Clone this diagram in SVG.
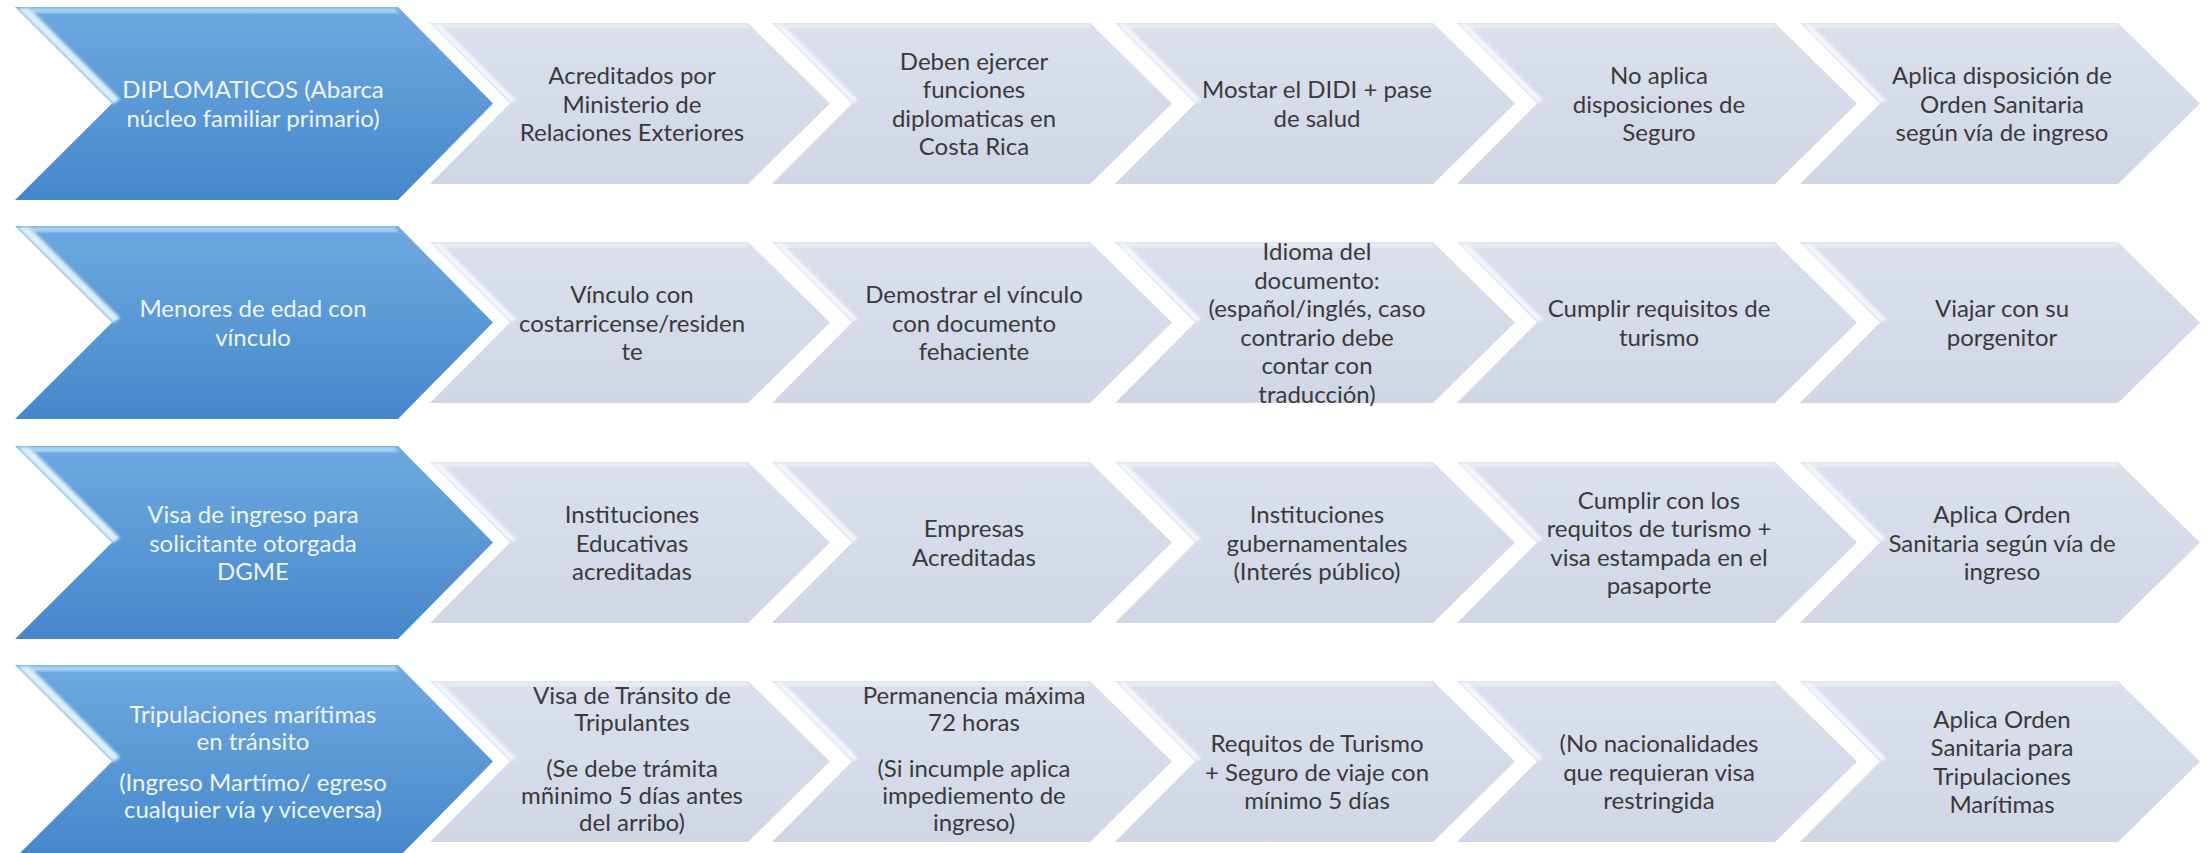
<svg xmlns="http://www.w3.org/2000/svg" xmlns:xlink="http://www.w3.org/1999/xlink" width="2208" height="853" viewBox="0 0 2208 853">
<style>
  text { font-family: Lato, "Open Sans", "Liberation Sans", sans-serif; font-size: 24px; text-anchor: middle; }
  .dark { fill: #3a3a3a; }
  .light { fill: #eef5fc; }
</style>
<defs>
  <linearGradient id="gBlue" x1="0" y1="0" x2="0" y2="1">
    <stop offset="0" stop-color="#6ea8e0"/>
    <stop offset="0.5" stop-color="#5a99d6"/>
    <stop offset="1" stop-color="#4686cb"/>
  </linearGradient>
  <linearGradient id="gGray" x1="0" y1="0" x2="0" y2="1">
    <stop offset="0" stop-color="#dbe0ec"/>
    <stop offset="1" stop-color="#d0d6e5"/>
  </linearGradient>
  <filter id="soft" x="-10%" y="-10%" width="120%" height="120%">
    <feGaussianBlur stdDeviation="1.6"/>
  </filter>
  <g id="blueShape">
    <polygon points="0,0 383,0 478,96.5 383,193 0,193 97,96.5" fill="url(#gBlue)"/>
    <polygon points="14,1 380,1 384,6 18,6" fill="#a9d5f4" filter="url(#soft)"/>
    <polygon points="2,1 14,1 105,92 98,97" fill="#dcf0fc" filter="url(#soft)"/>
  </g>
  <g id="grayShape">
    <polygon points="0,0 318,0 400,80.5 318,161 0,161 80,80.5" fill="url(#gGray)"/>
    <polygon points="10,1 316,1 320,5 14,5" fill="#e9edf5" filter="url(#soft)"/>
    <polygon points="2,1 10,1 86,77 81,80" fill="#f4f7fb" filter="url(#soft)"/>
  </g>
</defs>

<g id="connectors"/>

<!-- Row 1 -->
<g id="r1-head"><use xlink:href="#blueShape" x="15" y="7"/>
  <text class="light" x="253" y="98">DIPLOMATICOS (Abarca</text>
  <text class="light" x="253" y="127">núcleo familiar primario)</text></g>
<g id="r1-c1"><use xlink:href="#grayShape" x="430" y="23"/>
  <text class="dark" x="632" y="84">Acreditados por</text>
  <text class="dark" x="632" y="112.5">Ministerio de</text>
  <text class="dark" x="632" y="141">Relaciones Exteriores</text></g>
<g id="r1-c2"><use xlink:href="#grayShape" x="772" y="23"/>
  <text class="dark" x="974" y="70">Deben ejercer</text>
  <text class="dark" x="974" y="98">funciones</text>
  <text class="dark" x="974" y="127">diplomaticas en</text>
  <text class="dark" x="974" y="155">Costa Rica</text></g>
<g id="r1-c3"><use xlink:href="#grayShape" x="1115" y="23"/>
  <text class="dark" x="1317" y="98">Mostar el DIDI + pase</text>
  <text class="dark" x="1317" y="127">de salud</text></g>
<g id="r1-c4"><use xlink:href="#grayShape" x="1457" y="23"/>
  <text class="dark" x="1659" y="84">No aplica</text>
  <text class="dark" x="1659" y="112.5">disposiciones de</text>
  <text class="dark" x="1659" y="141">Seguro</text></g>
<g id="r1-c5"><use xlink:href="#grayShape" x="1800" y="23"/>
  <text class="dark" x="2002" y="84">Aplica disposición de</text>
  <text class="dark" x="2002" y="112.5">Orden Sanitaria</text>
  <text class="dark" x="2002" y="141">según vía de ingreso</text></g>

<!-- Row 2 -->
<g id="r2-head"><use xlink:href="#blueShape" x="15" y="226"/>
  <text class="light" x="253" y="317">Menores de edad con</text>
  <text class="light" x="253" y="345.5">vínculo</text></g>
<g id="r2-c1"><use xlink:href="#grayShape" x="430" y="242"/>
  <text class="dark" x="632" y="303">Vínculo con</text>
  <text class="dark" x="632" y="331.5">costarricense/residen</text>
  <text class="dark" x="632" y="360">te</text></g>
<g id="r2-c2"><use xlink:href="#grayShape" x="772" y="242"/>
  <text class="dark" x="974" y="303">Demostrar el vínculo</text>
  <text class="dark" x="974" y="331.5">con documento</text>
  <text class="dark" x="974" y="360">fehaciente</text></g>
<g id="r2-c3"><use xlink:href="#grayShape" x="1115" y="242"/>
  <text class="dark" x="1317" y="260">Idioma del</text>
  <text class="dark" x="1317" y="289">documento:</text>
  <text class="dark" x="1317" y="317">(español/inglés, caso</text>
  <text class="dark" x="1317" y="346">contrario debe</text>
  <text class="dark" x="1317" y="374">contar con</text>
  <text class="dark" x="1317" y="403">traducción)</text></g>
<g id="r2-c4"><use xlink:href="#grayShape" x="1457" y="242"/>
  <text class="dark" x="1659" y="317">Cumplir requisitos de</text>
  <text class="dark" x="1659" y="345.5">turismo</text></g>
<g id="r2-c5"><use xlink:href="#grayShape" x="1800" y="242"/>
  <text class="dark" x="2002" y="317">Viajar con su</text>
  <text class="dark" x="2002" y="345.5">porgenitor</text></g>

<!-- Row 3 -->
<g id="r3-head"><use xlink:href="#blueShape" x="15" y="446"/>
  <text class="light" x="253" y="523">Visa de ingreso para</text>
  <text class="light" x="253" y="551.5">solicitante otorgada</text>
  <text class="light" x="253" y="580">DGME</text></g>
<g id="r3-c1"><use xlink:href="#grayShape" x="430" y="462"/>
  <text class="dark" x="632" y="523">Instituciones</text>
  <text class="dark" x="632" y="551.5">Educativas</text>
  <text class="dark" x="632" y="580">acreditadas</text></g>
<g id="r3-c2"><use xlink:href="#grayShape" x="772" y="462"/>
  <text class="dark" x="974" y="537">Empresas</text>
  <text class="dark" x="974" y="565.5">Acreditadas</text></g>
<g id="r3-c3"><use xlink:href="#grayShape" x="1115" y="462"/>
  <text class="dark" x="1317" y="523">Instituciones</text>
  <text class="dark" x="1317" y="551.5">gubernamentales</text>
  <text class="dark" x="1317" y="580">(Interés público)</text></g>
<g id="r3-c4"><use xlink:href="#grayShape" x="1457" y="462"/>
  <text class="dark" x="1659" y="509">Cumplir con los</text>
  <text class="dark" x="1659" y="537">requitos de turismo +</text>
  <text class="dark" x="1659" y="566">visa estampada en el</text>
  <text class="dark" x="1659" y="594">pasaporte</text></g>
<g id="r3-c5"><use xlink:href="#grayShape" x="1800" y="462"/>
  <text class="dark" x="2002" y="523">Aplica Orden</text>
  <text class="dark" x="2002" y="551.5">Sanitaria según vía de</text>
  <text class="dark" x="2002" y="580">ingreso</text></g>

<!-- Row 4 -->
<g id="r4-head"><use xlink:href="#blueShape" x="15" y="665"/>
  <text class="light" x="253" y="723">Tripulaciones marítimas</text>
  <text class="light" x="253" y="750">en tránsito</text>
  <text class="light" x="253" y="791">(Ingreso Martímo/ egreso</text>
  <text class="light" x="253" y="818">cualquier vía y viceversa)</text></g>
<g id="r4-c1"><use xlink:href="#grayShape" x="430" y="681"/>
  <text class="dark" x="632" y="704">Visa de Tránsito de</text>
  <text class="dark" x="632" y="731">Tripulantes</text>
  <text class="dark" x="632" y="777">(Se debe trámita</text>
  <text class="dark" x="632" y="804">mñinimo 5 días antes</text>
  <text class="dark" x="632" y="831">del arribo)</text></g>
<g id="r4-c2"><use xlink:href="#grayShape" x="772" y="681"/>
  <text class="dark" x="974" y="704">Permanencia máxima</text>
  <text class="dark" x="974" y="731">72 horas</text>
  <text class="dark" x="974" y="777">(Si incumple aplica</text>
  <text class="dark" x="974" y="804">impediemento de</text>
  <text class="dark" x="974" y="831">ingreso)</text></g>
<g id="r4-c3"><use xlink:href="#grayShape" x="1115" y="681"/>
  <text class="dark" x="1317" y="752">Requitos de Turismo</text>
  <text class="dark" x="1317" y="780.5">+ Seguro de viaje con</text>
  <text class="dark" x="1317" y="809">mínimo 5 días</text></g>
<g id="r4-c4"><use xlink:href="#grayShape" x="1457" y="681"/>
  <text class="dark" x="1659" y="752">(No nacionalidades</text>
  <text class="dark" x="1659" y="780.5">que requieran visa</text>
  <text class="dark" x="1659" y="809">restringida</text></g>
<g id="r4-c5"><use xlink:href="#grayShape" x="1800" y="681"/>
  <text class="dark" x="2002" y="728">Aplica Orden</text>
  <text class="dark" x="2002" y="756">Sanitaria para</text>
  <text class="dark" x="2002" y="785">Tripulaciones</text>
  <text class="dark" x="2002" y="813">Marítimas</text></g>
</svg>
